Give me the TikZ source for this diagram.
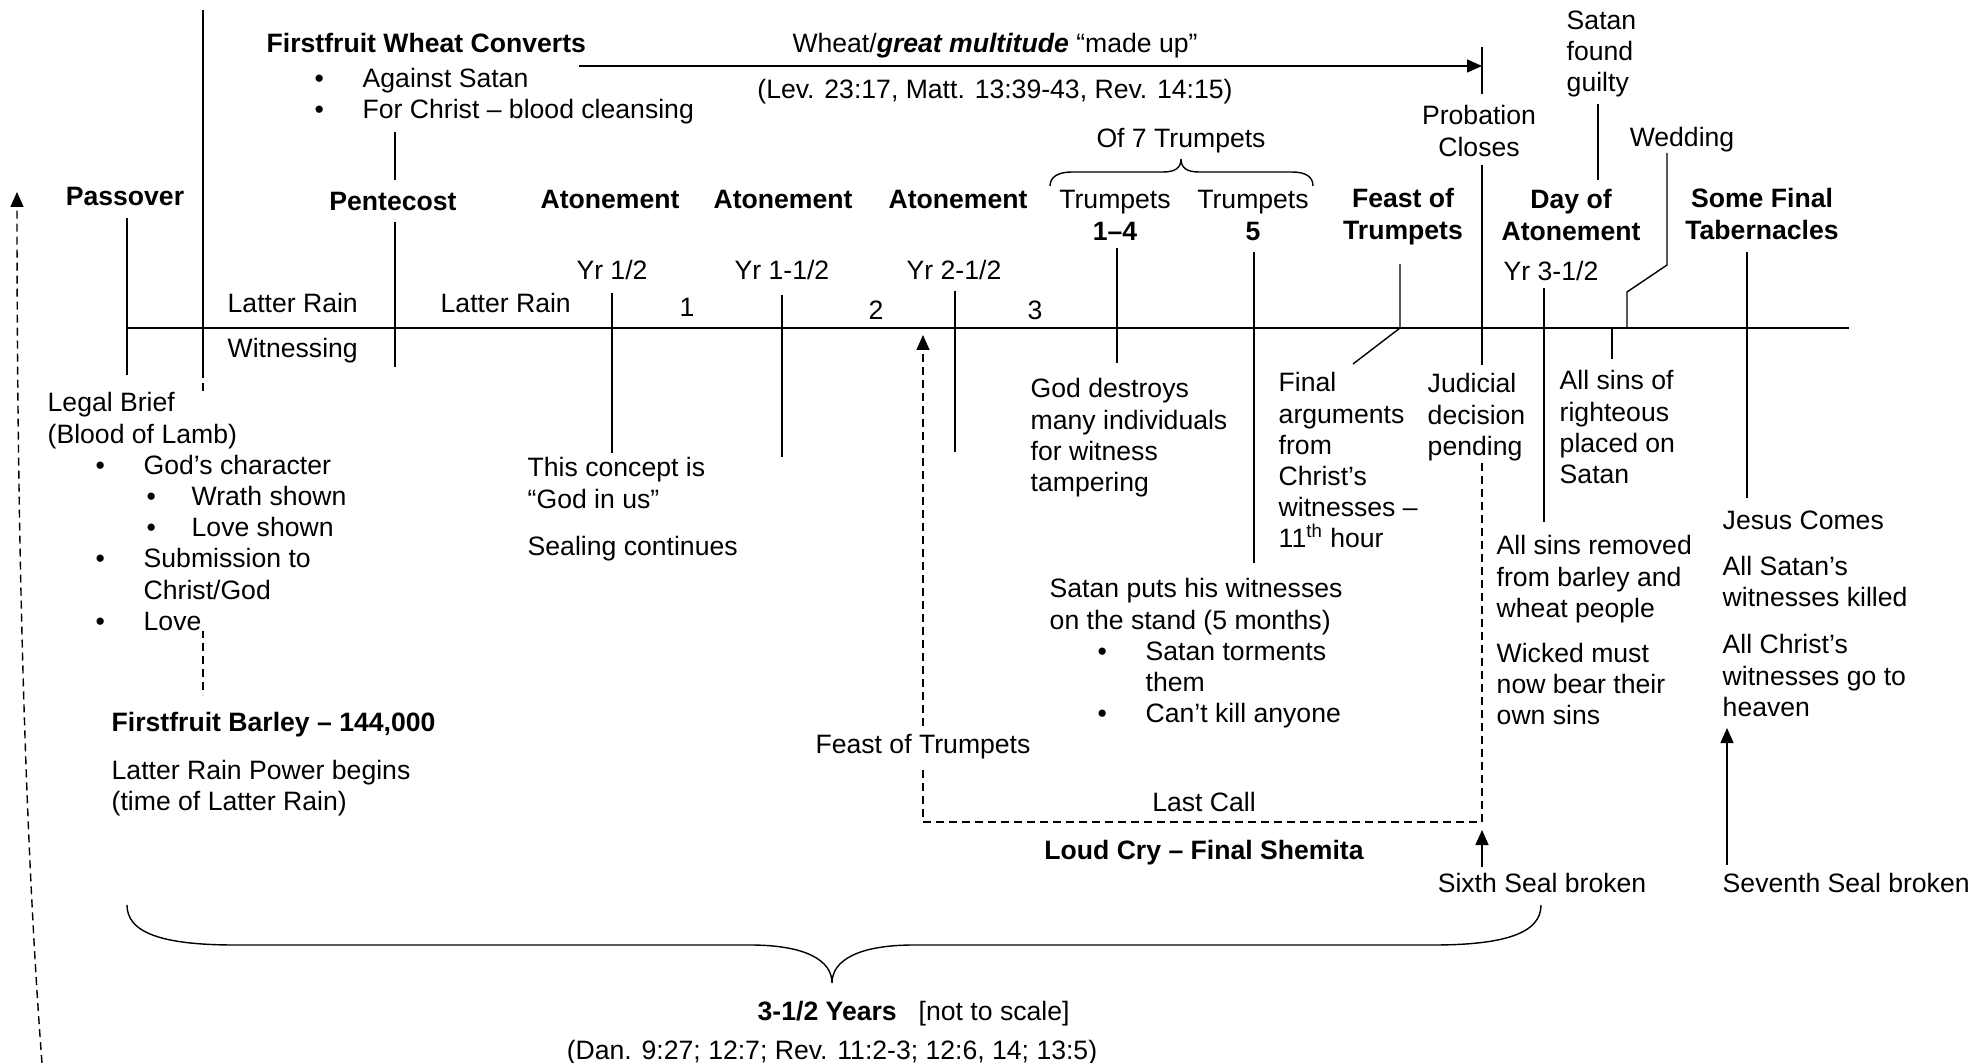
\documentclass[tikz,border=0pt]{standalone}
\usepackage{fontspec}
\setmainfont{Liberation Sans}
\usetikzlibrary{arrows.meta}
\newcommand\tlfont{\fontsize{13.3pt}{15.6pt}\selectfont}
\newcommand\bitem[1]{\hspace*{24pt}\makebox[24pt][l]{•}#1}
\newcommand\sbitem[1]{\hspace*{49.5pt}\makebox[22.5pt][l]{•}#1}
\newcommand\citem[1]{\hspace*{48pt}#1}
\tikzset{
  lbl/.style={inner sep=0pt, align=left},
  hd/.style={lbl, font=\tlfont\bfseries},
  dsh/.style={dash pattern=on 4pt off 2.5pt},
  arr/.style={-{Triangle[length=7.5pt,width=6.5pt]}},
}
\begin{document}
\begin{tikzpicture}[x=0.5pt, y=-0.5pt, font=\tlfont, line width=0.7pt]
  \useasboundingbox (0,0) rectangle (1986,1063);

  \coordinate (tlL) at (127,328);   \coordinate (tlR) at (1849,328);
  \coordinate (passT) at (127,218); \coordinate (passB) at (127,375);
  \coordinate (lambT) at (203,10);  \coordinate (lambM) at (203,370); \coordinate (lambB) at (203,695);
  \coordinate (pentA) at (395,132); \coordinate (pentB) at (395,180);
  \coordinate (pentC) at (395,222); \coordinate (pentD) at (395,367);
  \coordinate (y1T) at (612,293);   \coordinate (y1B) at (612,453);
  \coordinate (y2T) at (782,295);   \coordinate (y2B) at (782,457);
  \coordinate (y3T) at (955,291);   \coordinate (y3B) at (955,452);
  \coordinate (tr1T) at (1117,248); \coordinate (tr1B) at (1117,363);
  \coordinate (tr5T) at (1254,252); \coordinate (tr5B) at (1254,563);
  \coordinate (fotT) at (1400,264); \coordinate (fotM) at (1400,328); \coordinate (fotB) at (1353,364);
  \coordinate (wheatL) at (579,66);
  \coordinate (probA) at (1482,47); \coordinate (probB) at (1482,94);
  \coordinate (probC) at (1482,165); \coordinate (probD) at (1482,365);
  \coordinate (guiltT) at (1598,104); \coordinate (guiltB) at (1598,180);
  \coordinate (y4T) at (1544,288);  \coordinate (y4B) at (1544,522);
  \coordinate (sinT) at (1612,328); \coordinate (sinB) at (1612,359);
  \coordinate (wedA) at (1667,153); \coordinate (wedB) at (1667,265);
  \coordinate (wedC) at (1627,292); \coordinate (wedD) at (1627,328);
  \coordinate (tabT) at (1747,252); \coordinate (tabB) at (1747,498);
  \coordinate (sev) at (1727,865);  \coordinate (sevTip) at (1727,728);
  \coordinate (six) at (1482,867);  \coordinate (sixTip) at (1482,830);
  \coordinate (lcA) at (1482,463);  \coordinate (lcB) at (1482,822);
  \coordinate (lcC) at (923,822);   \coordinate (lcTip) at (923,335);
  \coordinate (leftB) at (42,1063); \coordinate (leftTip) at (17,192);
  \coordinate (sbL) at (1050,186);  \coordinate (sbR) at (1313,186);
  \coordinate (bbL) at (127,905);   \coordinate (bbR) at (1541,905);

  \draw (tlL) -- (tlR);
  \draw (passT) -- (passB);
  \draw (lambT) -- (lambM);
  \draw (pentA) -- (pentB);
  \draw (pentC) -- (pentD);
  \draw (y1T) -- (y1B);
  \draw (y2T) -- (y2B);
  \draw (y3T) -- (y3B);
  \draw (tr1T) -- (tr1B);
  \draw (tr5T) -- (tr5B);
  \draw (fotT) -- (fotM) -- (fotB);
  \draw (probA) -- (probB);
  \draw[arr] (wheatL) -- (wheatL -| probA);
  \draw (probC) -- (probD);
  \draw (guiltT) -- (guiltB);
  \draw (y4T) -- (y4B);
  \draw (sinT) -- (sinB);
  \draw (wedA) -- (wedB) -- (wedC) -- (wedD);
  \draw (tabT) -- (tabB);
  \draw[arr] (sev) -- (sevTip);
  \draw[arr] (six) -- (sixTip);
  \draw[dsh, arr] (leftB) .. controls (28,880) and (17,600) .. (leftTip);
  \draw[dsh, arr] (lcA) -- (lcB) -- (lcC) -- (lcTip);
  \draw[dsh] (lambM) -- (lambB);

  \draw (sbL) .. controls (1050,177) and (1058,172) .. (1072,172) -- (1163,172)
    .. controls (1175,172) and (1181,168) .. (1181,159)
    .. controls (1181,168) and (1187,172) .. (1199,172) -- (1292,172)
    .. controls (1306,172) and (1313,177) .. (sbR);
  \draw (bbL) .. controls (127,932) and (160,945) .. (235,945) -- (750,945)
    .. controls (805,945) and (832,960) .. (832,983)
    .. controls (832,960) and (859,945) .. (914,945) -- (1433,945)
    .. controls (1508,945) and (1541,932) .. (bbR);

  \node[lbl, anchor=north west] (wheatconv) at (266,33)
    {\textbf{Firstfruit Wheat Converts}\\[1.5pt]\bitem{Against Satan}\\\bitem{For Christ – blood cleansing}};
  \node[lbl, align=center, anchor=north] (wheat) at (995,33)
    {Wheat/\textbf{\textit{great multitude}} “made up”\\[7pt](Lev. 23:17, Matt. 13:39-43, Rev. 14:15)};
  \node[lbl, anchor=north] (seven) at (1181,128) {Of 7 Trumpets};
  \node[lbl, align=center, anchor=north] (trump1) at (1115,190) {Trumpets\\\textbf{1–4}};
  \node[lbl, align=center, anchor=north] (trump5) at (1253,190) {Trumpets\\\textbf{5}};
  \node[hd, anchor=north] (aton1) at (610,190) {Atonement};
  \node[hd, anchor=north] (aton2) at (783,190) {Atonement};
  \node[hd, anchor=north] (aton3) at (958,190) {Atonement};
  \node[hd, anchor=north] (pentecost) at (393,192) {Pentecost};
  \node[hd, anchor=north] (passover) at (125,187) {Passover};
  \node[lbl, anchor=north] (yr1) at (612,260) {Yr 1/2};
  \node[lbl, anchor=north] (yr2) at (782,260) {Yr 1-1/2};
  \node[lbl, anchor=north] (yr3) at (954,260) {Yr 2-1/2};
  \node[lbl, anchor=north west] (rain1) at (227,293) {Latter Rain};
  \node[lbl, anchor=north west] (rain2) at (440,293) {Latter Rain};
  \node[lbl, anchor=north west] (witness) at (227,338) {Witnessing};
  \node[lbl, anchor=north] (one) at (687,298) {1};
  \node[lbl, anchor=north] (two) at (876,300) {2};
  \node[lbl, anchor=north] (three) at (1035,300) {3};
  \node[hd, align=center, anchor=north] (feast) at (1403,188) {Feast of\\Trumpets};
  \node[lbl, align=center, anchor=north] (probation) at (1479,105) {Probation\\Closes};
  \node[lbl, anchor=north west] (guilty) at (1566,10) {Satan\\found\\guilty};
  \node[lbl, anchor=north] (wedding) at (1682,127) {Wedding};
  \node[hd, align=center, anchor=north] (dayaton) at (1571,189) {Day of\\Atonement};
  \node[lbl, anchor=north west] (yr4) at (1503,261) {Yr 3-1/2};
  \node[hd, align=center, anchor=north] (tabern) at (1762,188) {Some Final\\Tabernacles};

  \node[lbl, anchor=north west] (barley) at (111,712)
    {\textbf{Firstfruit Barley – 144,000}\\[8pt]Latter Rain Power begins\\(time of Latter Rain)};
  \node[lbl, anchor=north west, fill=white] (brief) at (47,392)
    {Legal Brief\\(Blood of Lamb)\\\bitem{God’s character}\\\sbitem{Wrath shown}\\\sbitem{Love shown}\\\bitem{Submission to}\\\citem{Christ/God}\\\bitem{Love}};
  \node[lbl, anchor=north west] (concept) at (527,457) {This concept is\\“God in us”\\[8pt]Sealing continues};
  \node[lbl, anchor=north west] (destroys) at (1030,378) {God destroys\\many individuals\\for witness\\tampering};
  \node[lbl, anchor=north west] (final) at (1278,372) {Final\\arguments\\from\\Christ’s\\witnesses –\\11\textsuperscript{th} hour};
  \node[lbl, anchor=north west] (stand) at (1049,578)
    {Satan puts his witnesses\\on the stand (5 months)\\\bitem{Satan torments}\\\citem{them}\\\bitem{Can’t kill anyone}};
  \node[lbl, inner ysep=4.5pt, fill=white] (feastlbl) at (923,747) {Feast of Trumpets};
  \node[lbl, anchor=north] (lastcall) at (1204,792) {Last Call};
  \node[hd, anchor=north] (loudcry) at (1204,840) {Loud Cry – Final Shemita};
  \node[lbl, anchor=north west, fill=white] (judicial) at (1427,373) {Judicial\\decision\\pending};
  \node[lbl, anchor=north west] (righteous) at (1559,370) {All sins of\\righteous\\placed on\\Satan};
  \node[lbl, anchor=north west] (removed) at (1496,535)
    {All sins removed\\from barley and\\wheat people\\[7pt]Wicked must\\now bear their\\own sins};
  \node[lbl, anchor=north west] (jesus) at (1722,510)
    {Jesus Comes\\[7.5pt]All Satan’s\\witnesses killed\\[8pt]All Christ’s\\witnesses go to\\heaven};
  \node[lbl, anchor=north] (sixth) at (1542,873) {Sixth Seal broken};
  \node[lbl, anchor=north west] (seventh) at (1722,873) {Seventh Seal broken};
  \node[lbl, anchor=north west] (years) at (757,1001) {\textbf{3-1/2 Years}\hspace{11pt}[not to scale]};
  \node[lbl, anchor=north] (dan) at (832,1040) {(Dan. 9:27; 12:7; Rev. 11:2-3; 12:6, 14; 13:5)};
\end{tikzpicture}
\end{document}
